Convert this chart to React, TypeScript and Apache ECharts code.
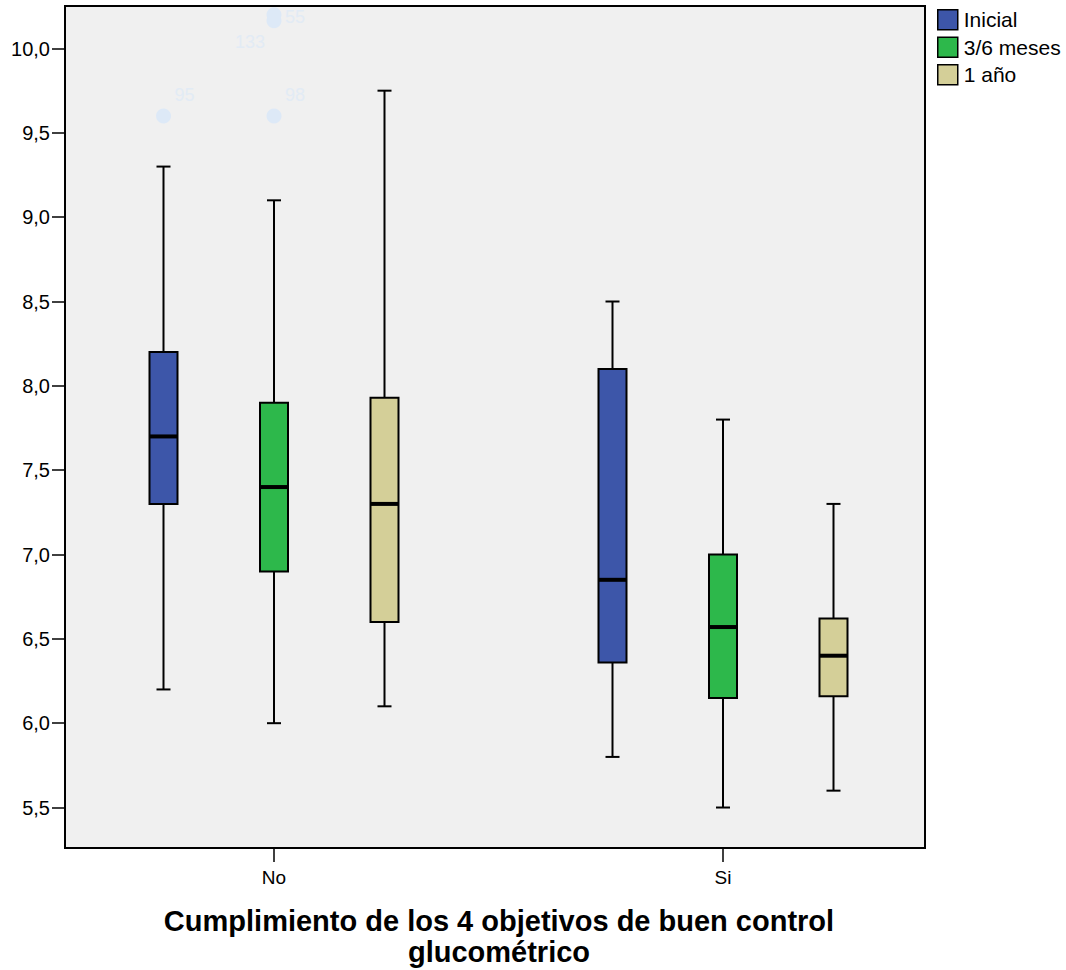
import React, { useEffect, useRef } from 'react';
import * as echarts from 'echarts';

const categories = ['No', 'Si'];
const seriesNames = ['Inicial', '3/6 meses', '1 año'];
const seriesColors = ['#3d56a9', '#2db84b', '#d4cf98'];
// [min, q1, median, q3, max] per category
const inicial = [
  [6.2, 7.3, 7.7, 8.2, 9.3],
  [5.8, 6.36, 6.85, 8.1, 8.5],
];
const meses36 = [
  [6.0, 6.9, 7.4, 7.9, 9.1],
  [5.5, 6.15, 6.57, 7.0, 7.8],
];
const unAno = [
  [6.1, 6.6, 7.3, 7.93, 9.75],
  [5.6, 6.16, 6.4, 6.62, 7.3],
];
const yTicks = [5.5, 6.0, 6.5, 7.0, 7.5, 8.0, 8.5, 9.0, 9.5, 10.0];
// [categoryIndex, seriesIndex, value, case label]
const outliers: [number, number, number, string][] = [
  [0, 0, 9.6, '95'],
  [0, 1, 9.6, '98'],
  [0, 1, 10.2, '55'],
  [0, 1, 10.165, '133'],
];

const FONT = "'Liberation Sans', Arial, sans-serif";
const groupOffsets = [-110.5, 0, 110.5];
const labelOffsets: Record<string, [number, number]> = {
  '95': [21, -21],
  '98': [21, -21],
  '55': [21, 2],
  '133': [-24, 21],
};

export default function App() {
  const ref = useRef<HTMLDivElement>(null);
  useEffect(() => {
    if (!ref.current) return;
    const chart = echarts.init(ref.current, undefined, { renderer: 'svg' });
    const groups = [inicial, meses36, unAno];
    const boxSeries = groups.map((g, si) => ({
      name: seriesNames[si],
      type: 'custom',
      itemStyle: { color: seriesColors[si] },
      encode: { x: 0, y: [1, 2, 3, 4, 5] },
      data: g.map((v, ci) => [ci, ...v]),
      renderItem: (params: any, api: any) => {
        const ci = api.value(0);
        const vals = [1, 2, 3, 4, 5].map((i) => api.value(i));
        const pts = vals.map((v: number) => api.coord([ci, v]));
        const x = pts[0][0] + groupOffsets[si];
        const [yMin, yQ1, yMed, yQ3, yMax] = pts.map((p: number[]) => p[1]);
        const bw = 28;
        const cw = 14;
        const ls = { stroke: '#000', lineWidth: 2 };
        return {
          type: 'group',
          children: [
            { type: 'line', shape: { x1: x, y1: yQ3, x2: x, y2: yMax }, style: ls },
            { type: 'line', shape: { x1: x, y1: yQ1, x2: x, y2: yMin }, style: ls },
            { type: 'line', shape: { x1: x - cw / 2, y1: yMax, x2: x + cw / 2, y2: yMax }, style: ls },
            { type: 'line', shape: { x1: x - cw / 2, y1: yMin, x2: x + cw / 2, y2: yMin }, style: ls },
            {
              type: 'rect',
              shape: { x: x - bw / 2, y: yQ3, width: bw, height: yQ1 - yQ3 },
              style: { fill: seriesColors[si], stroke: '#000', lineWidth: 2 },
            },
            { type: 'line', shape: { x1: x - bw / 2, y1: yMed, x2: x + bw / 2, y2: yMed }, style: { stroke: '#000', lineWidth: 4 } },
          ],
        };
      },
    }));
    const outlierSeries = {
      name: 'outliers',
      type: 'custom',
      encode: { x: 0, y: 2 },
      data: outliers.map((o) => [o[0], o[1], o[2], o[3]]),
      renderItem: (params: any, api: any) => {
        const ci = api.value(0);
        const si = api.value(1);
        const p = api.coord([ci, api.value(2)]);
        const lab = outliers[params.dataIndex][3];
        const x = p[0] + groupOffsets[si];
        const off = labelOffsets[lab] || [20, -20];
        return {
          type: 'group',
          children: [
            { type: 'circle', shape: { cx: x, cy: p[1], r: 7.5 }, style: { fill: '#dde9f7' } },
            {
              type: 'text',
              x: x + off[0],
              y: p[1] + off[1],
              style: { text: lab, fill: '#e2ebf5', font: `18px ${FONT}`, align: 'center', verticalAlign: 'middle' },
            },
          ],
        };
      },
    };
    chart.setOption({
      animation: false,
      backgroundColor: '#fff',
      textStyle: { fontFamily: FONT },
      title: {
        text: 'Cumplimiento de los 4 objetivos de buen control\nglucométrico',
        left: 499,
        top: 905,
        padding: 0,
        textAlign: 'center',
        textStyle: { fontSize: 29, fontWeight: 'bold', color: '#000', lineHeight: 31, fontFamily: FONT },
      },
      legend: {
        data: seriesNames,
        orient: 'vertical',
        left: 937,
        top: 9,
        padding: 0,
        itemWidth: 20,
        itemHeight: 20,
        itemGap: 6,
        icon: 'rect',
        itemStyle: { borderColor: '#000', borderWidth: 1.5 },
        textStyle: { fontSize: 21, color: '#000', fontFamily: FONT, padding: [0, 0, 0, 1] },
      },
      grid: {
        left: 65,
        top: 6,
        width: 860,
        height: 842,
        show: true,
        backgroundColor: '#f0f0f0',
        borderColor: '#000',
        borderWidth: 2,
      },
      xAxis: {
        type: 'value',
        min: -0.46548,
        max: 1.44989,
        splitLine: { show: false },
        axisLine: { show: false, onZero: false },
        axisTick: { show: true, length: 14, customValues: [0, 1], lineStyle: { color: '#000', width: 1.5 } },
        axisLabel: {
          customValues: [0, 1],
          formatter: (v: number) => categories[Math.round(v)] ?? '',
          fontSize: 19,
          color: '#000',
          margin: 20,
          fontFamily: FONT,
        },
      },
      yAxis: {
        type: 'value',
        min: 5.26,
        max: 10.252,
        splitLine: { show: false },
        axisLine: { show: false, onZero: false },
        axisTick: { show: true, length: 13, customValues: yTicks, lineStyle: { color: '#000', width: 1.5 } },
        axisLabel: {
          customValues: yTicks,
          formatter: (v: number) => v.toFixed(1).replace('.', ','),
          fontSize: 20,
          color: '#000',
          margin: 15,
          fontFamily: FONT,
        },
      },
      series: [...boxSeries, outlierSeries],
    });
    return () => chart.dispose();
  }, []);
  return <div ref={ref} style={{ position: 'absolute', left: 0, top: 0, width: 1066, height: 970 }} />;
}
